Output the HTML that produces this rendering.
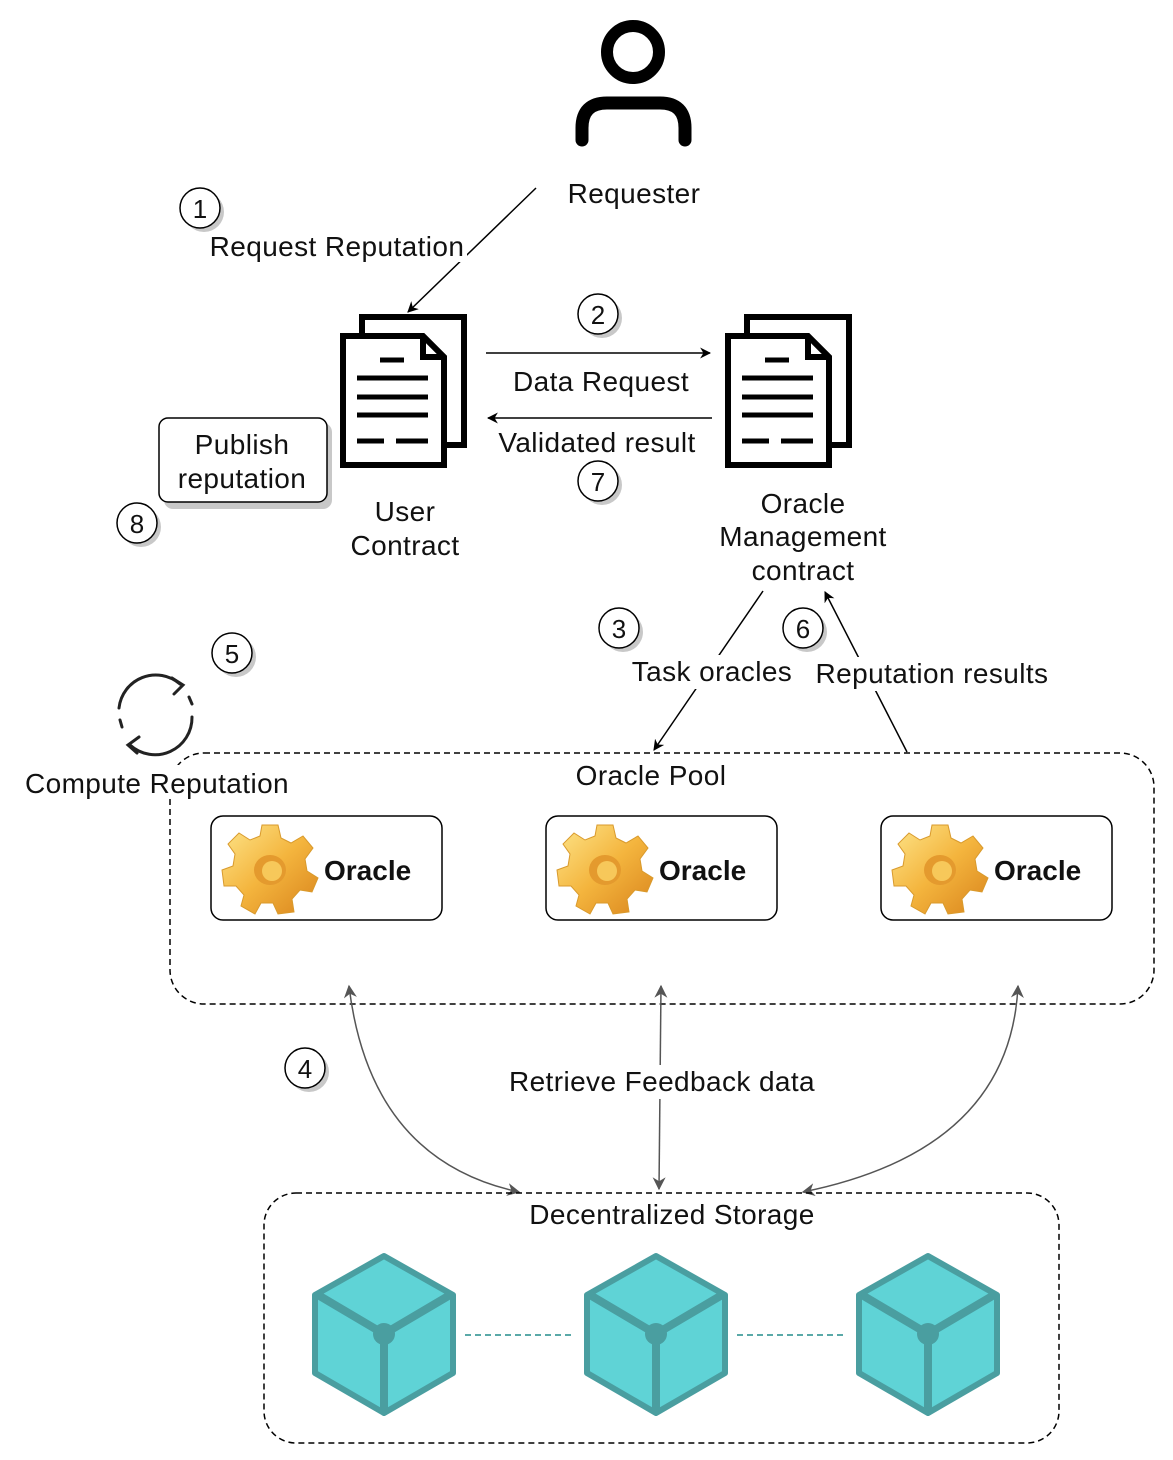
<!DOCTYPE html>
<html><head><meta charset="utf-8"><style>
body{margin:0;background:#fff}
svg{display:block}
text{font-family:"Liberation Sans",Arial,sans-serif;fill:#111}
.t{font-size:28px;letter-spacing:0.4px}
</style></head><body>
<svg width="1173" height="1460" viewBox="0 0 1173 1460" xmlns="http://www.w3.org/2000/svg">
<defs>
<marker id="ab" viewBox="0 0 10 10" refX="9" refY="5" markerWidth="11" markerHeight="11" markerUnits="userSpaceOnUse" orient="auto-start-reverse"><path d="M0,0 L10,5 L0,10 L3,5z" fill="#000"/></marker>
<marker id="ag" viewBox="0 0 10 10" refX="9" refY="5" markerWidth="13" markerHeight="13" markerUnits="userSpaceOnUse" orient="auto-start-reverse"><path d="M0,0 L10,5 L0,10 L3,5z" fill="#555"/></marker>
<g id="doc" fill="#fff" stroke="#000" stroke-width="6">
<rect x="22" y="0" width="102" height="128"/>
<path d="M3,19 H83 L104,40 V148 H3 Z"/>
<path d="M83,19 V40 H104" fill="none"/>
<g stroke-width="5"><line x1="40" y1="43" x2="64" y2="43"/><line x1="17" y1="61" x2="88" y2="61"/><line x1="17" y1="80" x2="88" y2="80"/><line x1="17" y1="98" x2="88" y2="98"/><line x1="17" y1="124" x2="44" y2="124"/><line x1="56" y1="124" x2="88" y2="124"/></g>
</g>
<linearGradient id="gg" x1="0" y1="0" x2="1" y2="1"><stop offset="0" stop-color="#fde58a"/><stop offset="0.5" stop-color="#f4b53e"/><stop offset="1" stop-color="#d9841c"/></linearGradient>
<g id="gear">
<path fill="url(#gg)" stroke="#d99a2c" stroke-width="1" d="M-8,-43 L8,-43 L11,-30 L21,-25 L33,-32 L43,-20 L35,-9 L37,3 L48,10 L42,24 L30,22 L22,31 L24,44 L8,46 L3,35 L-9,35 L-15,46 L-29,38 L-26,27 L-34,18 L-46,18 L-48,2 L-37,-2 L-35,-14 L-42,-24 L-31,-35 L-20,-28 L-10,-32 Z"/>
<ellipse cx="0" cy="2" rx="16" ry="15" fill="#e49a2e"/>
<ellipse cx="2" cy="3" rx="10" ry="10" fill="#f7c85a"/>
</g>
<g id="cube">
<polygon points="0,-78 69,-39 69,39 0,79 -69,39 -69,-39" fill="#5fd3d6" stroke="#4a9ea0" stroke-width="6" stroke-linejoin="round"/>
<polyline points="-66,-39 0,0 66,-39" fill="none" stroke="#4a9ea0" stroke-width="8"/>
<line x1="0" y1="0" x2="0" y2="78" stroke="#4a9ea0" stroke-width="8"/>
<circle cx="0" cy="0" r="11" fill="#4a9ea0"/>
</g>
<g id="num"><circle cx="4" cy="4" r="20" fill="#c8c8c8"/><circle cx="0" cy="0" r="20" fill="#fff" stroke="#000" stroke-width="1.5"/></g>
</defs>

<!-- requester -->
<circle cx="633" cy="52" r="26" fill="none" stroke="#000" stroke-width="12"/>
<path d="M582,140 V128 Q582,103 607,103 H660 Q685,103 685,128 V140" fill="none" stroke="#000" stroke-width="13" stroke-linecap="round"/>
<text x="634" y="203" class="t" text-anchor="middle">Requester</text>

<line x1="536" y1="188" x2="408" y2="312" stroke="#000" stroke-width="1.5" marker-end="url(#ab)"/>
<rect x="205" y="230" width="262" height="32" fill="#fff"/>
<text x="337" y="256" class="t" text-anchor="middle">Request Reputation</text>
<use href="#num" x="200" y="208"/><text x="200" y="218" font-size="26" text-anchor="middle">1</text>

<use href="#doc" x="340" y="317"/>
<use href="#doc" x="725" y="317"/>
<text x="405" y="521" class="t" text-anchor="middle">User</text>
<text x="405" y="555" class="t" text-anchor="middle">Contract</text>
<text x="803" y="513" class="t" text-anchor="middle">Oracle</text>
<text x="803" y="546" class="t" text-anchor="middle">Management</text>
<text x="803" y="580" class="t" text-anchor="middle">contract</text>

<line x1="486" y1="353" x2="710" y2="353" stroke="#000" stroke-width="1.5" marker-end="url(#ab)"/>
<line x1="712" y1="418" x2="488" y2="418" stroke="#000" stroke-width="1.5" marker-end="url(#ab)"/>
<text x="601" y="391" class="t" text-anchor="middle">Data Request</text>
<text x="597" y="452" class="t" text-anchor="middle">Validated result</text>
<use href="#num" x="598" y="314"/><text x="598" y="324" font-size="26" text-anchor="middle">2</text>
<use href="#num" x="598" y="481"/><text x="598" y="491" font-size="26" text-anchor="middle">7</text>

<rect x="164" y="423" width="168" height="86" rx="9" fill="#c8c8c8"/>
<rect x="159" y="418" width="168" height="84" rx="9" fill="#fff" stroke="#000" stroke-width="1.5"/>
<text x="242" y="454" class="t" text-anchor="middle">Publish</text>
<text x="242" y="488" class="t" text-anchor="middle">reputation</text>
<use href="#num" x="137" y="523"/><text x="137" y="533" font-size="26" text-anchor="middle">8</text>

<!-- 3 / 6 -->
<line x1="763" y1="591" x2="654" y2="750" stroke="#000" stroke-width="1.5" marker-end="url(#ab)"/>
<line x1="907" y1="752" x2="825" y2="592" stroke="#000" stroke-width="1.5" marker-end="url(#ab)"/>
<rect x="628" y="655" width="168" height="34" fill="#fff"/>
<rect x="812" y="657" width="240" height="34" fill="#fff"/>
<text x="712" y="681" class="t" text-anchor="middle">Task oracles</text>
<text x="932" y="683" class="t" text-anchor="middle">Reputation results</text>
<use href="#num" x="619" y="628"/><text x="619" y="638" font-size="26" text-anchor="middle">3</text>
<use href="#num" x="803" y="628"/><text x="803" y="638" font-size="26" text-anchor="middle">6</text>

<!-- oracle pool -->
<rect x="170" y="753" width="984" height="251" rx="34" fill="none" stroke="#000" stroke-width="1.5" stroke-dasharray="6,4"/>
<text x="651" y="785" class="t" text-anchor="middle">Oracle Pool</text>

<!-- 5 -->
<use href="#num" x="232" y="653"/><text x="232" y="663" font-size="26" text-anchor="middle">5</text>
<g fill="none" stroke="#222" stroke-width="3" stroke-linecap="round">
<path d="M119,708 A37,37 0 0 1 180,684"/>
<path d="M192,717 A37,37 0 0 1 130,745"/>
<path d="M172,678 L183,685 L174,694"/>
<path d="M139,737 L128,745 L137,753"/>
<line x1="120" y1="720" x2="122" y2="727"/>
<line x1="189" y1="697" x2="192" y2="704"/>
</g>
<rect x="20" y="765" width="275" height="34" fill="#fff"/>
<text x="157" y="793" class="t" text-anchor="middle">Compute Reputation</text>

<g>
<rect x="211" y="816" width="231" height="104" rx="12" fill="#fff" stroke="#000" stroke-width="1.5"/>
<use href="#gear" x="270" y="868"/>
<text x="324" y="880" font-size="28" font-weight="bold">Oracle</text>
<rect x="546" y="816" width="231" height="104" rx="12" fill="#fff" stroke="#000" stroke-width="1.5"/>
<use href="#gear" x="605" y="868"/>
<text x="659" y="880" font-size="28" font-weight="bold">Oracle</text>
<rect x="881" y="816" width="231" height="104" rx="12" fill="#fff" stroke="#000" stroke-width="1.5"/>
<use href="#gear" x="940" y="868"/>
<text x="994" y="880" font-size="28" font-weight="bold">Oracle</text>
</g>

<!-- retrieve -->
<g fill="none" stroke="#555" stroke-width="1.5">
<path d="M349,986 Q370,1160 519,1192" marker-start="url(#ag)" marker-end="url(#ag)"/>
<line x1="661" y1="986" x2="659" y2="1189" marker-start="url(#ag)" marker-end="url(#ag)"/>
<path d="M1018,986 Q1010,1150 803,1192" marker-start="url(#ag)" marker-end="url(#ag)"/>
</g>
<rect x="502" y="1065" width="320" height="34" fill="#fff"/>
<text x="662" y="1091" class="t" text-anchor="middle">Retrieve Feedback data</text>
<use href="#num" x="305" y="1068"/><text x="305" y="1078" font-size="26" text-anchor="middle">4</text>

<!-- storage -->
<rect x="264" y="1193" width="795" height="250" rx="32" fill="none" stroke="#000" stroke-width="1.5" stroke-dasharray="6,4"/>
<text x="672" y="1224" class="t" text-anchor="middle">Decentralized Storage</text>
<use href="#cube" x="384" y="1334"/>
<use href="#cube" x="656" y="1334"/>
<use href="#cube" x="928" y="1334"/>
<g stroke="#5aa9a8" stroke-width="2" stroke-dasharray="6,4"><line x1="465" y1="1335" x2="574" y2="1335"/><line x1="737" y1="1335" x2="846" y2="1335"/></g>
</svg>
</body></html>
